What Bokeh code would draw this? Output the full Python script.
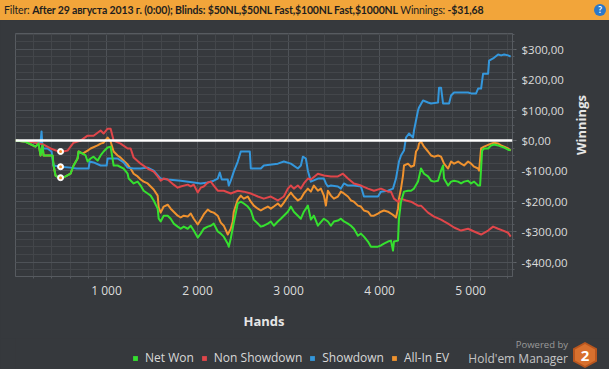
import math
from bokeh.plotting import figure
from bokeh.models import (Range1d, FixedTicker, Span, Legend, LegendItem, Div)
from bokeh.layouts import column
from bokeh.embed import file_html
from bokeh.resources import INLINE

# ---------------- data (hands, winnings $) ----------------
net_won = [(0,0),(110,-4),(220,-20),(253,-10),(275,-49),(297,-16),(308,-49),(407,-49),(418,-82),(440,-115),
    (495,-125),(550,-118),(605,-109),(638,-82),(682,-59),(693,-36),(737,-43),(770,-49),(792,-69),(825,-59),
    (858,-53),(902,-66),(935,-49),(968,-36),(1012,-23),(1045,-20),(1078,-82),(1122,-82),(1188,-92),(1232,-109),
    (1243,-125),(1298,-141),(1342,-135),(1375,-148),(1408,-165),(1452,-174),(1485,-181),(1518,-197),(1562,-224),
    (1573,-257),(1595,-266),(1628,-247),(1672,-247),(1705,-257),(1738,-273),(1782,-283),(1815,-290),(1848,-283),
    (1892,-290),(1925,-280),(1958,-296),(2002,-319),(2035,-306),(2068,-290),(2112,-283),(2145,-280),(2178,-273),
    (2222,-299),(2255,-306),(2288,-316),(2332,-339),(2343,-349),(2365,-322),(2398,-270),(2442,-207),(2475,-201),
    (2508,-207),(2552,-217),(2585,-230),(2618,-260),(2662,-273),(2695,-283),(2728,-280),(2772,-273),(2805,-266),
    (2838,-280),(2882,-266),(2915,-257),(2948,-247),(2992,-234),(3025,-217),(3058,-234),(3102,-247),(3135,-257),
    (3168,-234),(3212,-214),(3245,-260),(3278,-247),(3322,-280),(3388,-257),(3432,-266),(3465,-280),(3498,-266),
    (3542,-263),(3575,-257),(3608,-266),(3652,-273),(3685,-280),(3718,-290),(3762,-313),(3795,-306),(3828,-316),
    (3872,-332),(3905,-349),(3938,-349),(3982,-349),(4015,-345),(4048,-339),(4092,-332),(4125,-329),(4147,-362),
    (4158,-332),(4202,-329),(4213,-257),(4235,-201),(4268,-168),(4312,-165),(4345,-165),(4378,-158),(4422,-135),
    (4455,-92),(4488,-109),(4532,-118),(4565,-132),(4598,-135),(4642,-132),(4675,-99),(4697,-82),(4708,-125),
    (4752,-148),(4785,-135),(4818,-132),(4862,-135),(4895,-141),(4928,-135),(4972,-132),(5005,-141),(5038,-135),
    (5082,-148),(5104,-148),(5115,-92),(5126,-33),(5148,-26),(5192,-26),(5225,-16),(5258,-13),(5302,-16),
    (5335,-20),(5368,-23),(5412,-30),(5440,-32)]

non_showdown = [(0,0),(198,-6),(308,-13),(385,-26),(495,-38),(572,-33),(638,-7),(715,0),(792,16),(858,16),
    (935,33),(968,23),(1012,39),(1045,39),(1078,0),(1155,-10),(1232,-26),(1265,-26),(1298,-56),(1375,-76),
    (1452,-92),(1518,-102),(1562,-118),(1595,-132),(1628,-125),(1672,-128),(1738,-145),(1782,-155),(1815,-151),
    (1892,-145),(1925,-151),(1958,-145),(2002,-171),(2035,-155),(2068,-151),(2112,-138),(2145,-135),(2178,-148),
    (2222,-165),(2288,-165),(2365,-174),(2442,-165),(2508,-168),(2585,-174),(2662,-184),(2728,-191),(2805,-184),
    (2882,-197),(2948,-184),(2992,-158),(3025,-148),(3058,-158),(3102,-148),(3135,-158),(3168,-141),(3212,-125),
    (3245,-128),(3322,-109),(3388,-115),(3465,-118),(3542,-118),(3597,-109),(3652,-125),(3718,-141),(3795,-148),
    (3872,-158),(3938,-165),(4015,-158),(4092,-168),(4125,-168),(4158,-191),(4202,-201),(4235,-191),(4290,-197),
    (4345,-201),(4422,-214),(4455,-214),(4532,-237),(4598,-250),(4675,-260),(4708,-266),(4752,-273),(4818,-286),
    (4895,-296),(4972,-290),(5038,-299),(5115,-309),(5192,-296),(5247,-283),(5302,-290),(5357,-296),(5412,-303),
    (5440,-316)]

showdown = [(0,0),(198,-6),(275,-7),(286,30),(297,-26),(352,-26),(396,-36),(418,-82),(495,-86),(605,-89),
    (671,-92),(803,-92),(814,-69),(858,-72),(935,-82),(1001,-82),(1012,-59),(1122,-59),(1188,-72),(1232,-89),
    (1298,-92),(1375,-92),(1452,-89),(1518,-99),(1595,-125),(1672,-128),(1815,-132),(1958,-138),(2035,-141),
    (2112,-138),(2178,-132),(2222,-125),(2244,-105),(2266,-128),(2332,-128),(2343,-148),(2365,-132),(2398,-102),
    (2442,-69),(2475,-36),(2574,-36),(2585,-92),(2695,-92),(2728,-82),(2882,-76),(2948,-69),(3025,-76),
    (3102,-92),(3135,-82),(3157,-53),(3190,-59),(3212,-99),(3245,-135),(3322,-125),(3388,-125),(3410,-141),
    (3432,-151),(3465,-148),(3542,-151),(3575,-158),(3608,-141),(3652,-148),(3718,-148),(3795,-151),(3828,-184),
    (3982,-184),(4015,-168),(4092,-165),(4147,-158),(4180,-125),(4213,-69),(4235,-49),(4268,-33),(4290,10),
    (4323,23),(4367,10),(4378,33),(4400,66),(4422,99),(4433,109),(4477,132),(4532,125),(4565,122),(4642,125),
    (4653,174),(4675,174),(4697,122),(4763,122),(4785,148),(4818,158),(4972,158),(5005,155),(5060,155),
    (5082,171),(5115,171),(5137,220),(5192,220),(5203,263),(5247,270),(5302,283),(5335,280),(5368,283),
    (5412,280),(5440,276)]

all_in_ev = [(0,0),(110,-4),(220,-20),(253,-10),(275,-49),(297,-16),(308,-49),(407,-49),(418,-82),(440,-115),
    (495,-125),(550,-118),(605,-109),(638,-82),(682,-59),(693,-36),(737,-43),(792,-33),(825,-26),(902,-16),
    (935,-10),(968,-7),(1012,10),(1045,-3),(1078,-36),(1122,-49),(1155,-56),(1188,-66),(1232,-79),(1265,-92),
    (1298,-109),(1342,-118),(1375,-128),(1408,-135),(1452,-141),(1485,-151),(1518,-161),(1562,-181),(1573,-220),
    (1595,-237),(1628,-217),(1672,-211),(1705,-224),(1738,-234),(1782,-247),(1815,-253),(1848,-247),(1892,-250),
    (1925,-240),(1958,-257),(2002,-276),(2035,-260),(2068,-243),(2112,-227),(2145,-234),(2178,-237),(2222,-247),
    (2255,-270),(2288,-280),(2332,-309),(2365,-290),(2387,-266),(2398,-234),(2442,-194),(2475,-181),(2508,-191),
    (2552,-184),(2585,-201),(2618,-214),(2662,-224),(2695,-230),(2728,-224),(2772,-217),(2805,-224),(2838,-217),
    (2882,-207),(2915,-217),(2948,-204),(2992,-184),(3025,-171),(3058,-184),(3102,-197),(3135,-191),(3168,-174),
    (3212,-158),(3245,-168),(3278,-148),(3322,-165),(3355,-158),(3388,-181),(3410,-214),(3432,-165),(3465,-181),
    (3498,-191),(3542,-184),(3575,-168),(3608,-174),(3652,-184),(3685,-197),(3718,-201),(3762,-214),(3795,-217),
    (3828,-230),(3872,-234),(3905,-247),(3938,-247),(3982,-240),(4015,-234),(4048,-230),(4092,-234),(4125,-240),
    (4158,-247),(4180,-253),(4202,-224),(4213,-191),(4235,-158),(4257,-115),(4268,-82),(4312,-76),(4345,-86),
    (4378,-82),(4400,-36),(4422,-26),(4433,-10),(4455,-3),(4488,-20),(4532,-36),(4565,-49),(4598,-53),
    (4642,-49),(4675,-53),(4708,-76),(4752,-92),(4785,-69),(4818,-76),(4862,-69),(4895,-76),(4928,-82),
    (4972,-69),(5005,-76),(5038,-86),(5082,-92),(5093,-99),(5115,-26),(5148,-20),(5225,-10),(5258,-7),
    (5302,-10),(5335,-16),(5368,-20),(5412,-26),(5440,-33)]

hover_hands = [495, 495, 495]
hover_values = [-36, -86, -122]

series_names = ["Net Won", "Non Showdown", "Showdown", "All-In EV"]
series_colors = ["#35e02f", "#e0464a", "#3497dc", "#f0922e"]

x_ticks = [1000, 2000, 3000, 4000, 5000]
x_labels = ["1 000", "2 000", "3 000", "4 000", "5 000"]
y_ticks = [-400, -300, -200, -100, 0, 100, 200, 300]
y_labels = ["-$400,00", "-$300,00", "-$200,00", "-$100,00", "$0,00", "$100,00", "$200,00", "$300,00"]

# ---------------- styling ----------------
BG = "#36393d"
GRID_MAJ = "#4e5257"
GRID_MIN = "#43464a"
TXT = "#dcdcdc"
FONT = "Open Sans"

footer_html = (
    '<div style="position:absolute;left:460px;top:338px;width:149px;height:31px;z-index:50;'
    'pointer-events:none;background:transparent;">'
    '<span style="position:absolute;right:41px;top:1px;font-family:\'Open Sans\';font-size:9.5px;'
    'line-height:11px;color:#9a9a9a;letter-spacing:0;">Powered by</span>'
    '<span style="position:absolute;right:41px;top:14px;font-family:\'Open Sans\';font-size:12px;'
    'line-height:13px;color:#c4c4c4;letter-spacing:0;">Hold\'em Manager</span>'
    '<span style="position:absolute;left:113px;top:4px;width:24px;height:26px;background:#b8561f;'
    'clip-path:polygon(50% 0,100% 25%,100% 75%,50% 100%,0 75%,0 25%);"></span>'
    '<span style="position:absolute;left:115px;top:6px;width:20px;height:22px;background:#d8702e;'
    'clip-path:polygon(50% 0,100% 25%,100% 75%,50% 100%,0 75%,0 25%);color:white;font-family:\'Open Sans\';'
    'font-weight:bold;font-size:15px;line-height:22px;text-align:center;letter-spacing:0;">2</span>'
    '</div>')

header = Div(
    text=('<div style="position:relative;width:609px;height:20px;">'
          '<div style="display:flex;justify-content:space-between;align-items:center;height:20px;'
          'padding-left:4px;box-sizing:border-box;">'
          '<span>Filter: <b>After 29 августа 2013 г. (0:00); Blinds: $50NL,$50NL Fast,$100NL Fast,$1000NL</b>'
          ' Winnings: <b>-$31,68</b></span>'
          '<span style="display:inline-block;width:12px;height:12px;border-radius:6px;background:#2b78c8;'
          'color:white;font-size:9px;line-height:12px;text-align:center;font-weight:bold;margin-right:3px;'
          'letter-spacing:0;">?</span></div>' + footer_html + '</div>'),
    width=609, height=20, margin=0,
    styles={"background-color": "#f2a53a", "font-family": "Lato", "font-size": "10.5px",
            "letter-spacing": "-0.15px", "color": "#1e1e1e", "white-space": "nowrap",
            "overflow": "visible"})

p = figure(width=609, height=318, x_range=Range1d(0, 5460), y_range=Range1d(-447, 352),
           output_backend="svg", toolbar_location=None, y_axis_location="right",
           min_border_left=15, min_border_top=13, min_border_right=97, min_border_bottom=62,
           background_fill_color=BG, border_fill_color=BG, outline_line_color="#575b60")

xa = p.xaxis[0]
xa.ticker = FixedTicker(ticks=x_ticks, minor_ticks=list(range(200, 5460, 200)))
xa.major_label_overrides = dict(zip(x_ticks, x_labels))
ya = p.yaxis[0]
ya.ticker = FixedTicker(ticks=y_ticks, minor_ticks=list(range(-425, 352, 25)))
ya.major_label_overrides = dict(zip(y_ticks, y_labels))

for ax in (xa, ya):
    ax.axis_line_color = "#575b60"
    ax.major_tick_line_color = "#62666b"
    ax.minor_tick_line_color = "#55595e"
    ax.major_tick_in = 0
    ax.minor_tick_in = 0
    ax.major_tick_out = 4
    ax.minor_tick_out = 2
    ax.major_label_text_color = TXT
    ax.major_label_text_font = FONT
    ax.axis_label_text_font = FONT
    ax.axis_label_text_font_style = "bold"
    ax.axis_label_text_font_size = "13px"
    ax.axis_label_text_color = "#e6e6e6"
xa.major_label_text_font_size = "12px"
ya.major_label_text_font_size = "11.5px"
xa.major_label_standoff = 1
xa.axis_label = "Hands"
xa.axis_label_standoff = 10
ya.major_label_standoff = 5
ya.axis_label = "Winnings"
ya.axis_label_standoff = 10
try:
    ya.axis_label_orientation = math.pi / 2
except Exception:
    pass

for g in (p.xgrid[0], p.ygrid[0]):
    g.grid_line_color = GRID_MAJ
    g.minor_grid_line_color = GRID_MIN
    g.grid_line_width = 1
    g.minor_grid_line_width = 1

p.add_layout(Span(location=0, dimension="width", line_color="white", line_width=2.5))

# draw order: All-In EV, Showdown, Non Showdown, Net Won (on top)
data = [net_won, non_showdown, showdown, all_in_ev]
for idx in (3, 2, 1, 0):
    xs = [h for h, v in data[idx]]
    ys = [v for h, v in data[idx]]
    p.line(xs, ys, line_color=series_colors[idx], line_width=2, line_join="round")

p.scatter(hover_hands, hover_values, size=6, fill_color="white", line_color="white")
p.scatter(hover_hands, hover_values, size=3, fill_color="#f0922e", line_color=None)

# ---------------- legend strip (own small figure, legend inside its frame) ----------------
lf = figure(width=609, height=31, x_range=Range1d(0, 1), y_range=Range1d(0, 1),
            output_backend="svg", toolbar_location=None, x_axis_location=None, y_axis_location=None,
            min_border=0, background_fill_color=BG, border_fill_color=BG, outline_line_color=None)
lf.xgrid.visible = False
lf.ygrid.visible = False
items = []
for name, col in zip(series_names, series_colors):
    # swatch renderer: one point kept outside the strip's range, only its legend square shows
    r = lf.scatter([5], [5], marker="square", size=5, fill_color=col, line_color=None)
    items.append(LegendItem(label=name, renderers=[r]))
leg = Legend(items=items, orientation="horizontal", location=(114, 3),
             background_fill_alpha=0, border_line_alpha=0, margin=0, padding=0,
             label_text_color="#d8d8d8", label_text_font=FONT, label_text_font_size="12px",
             glyph_width=12, glyph_height=14, label_standoff=4, spacing=4)
lf.add_layout(leg, "center")

layout = column(header, p, lf, spacing=0, styles={"background-color": BG})
open("out.html", "w").write(file_html(layout, INLINE))
